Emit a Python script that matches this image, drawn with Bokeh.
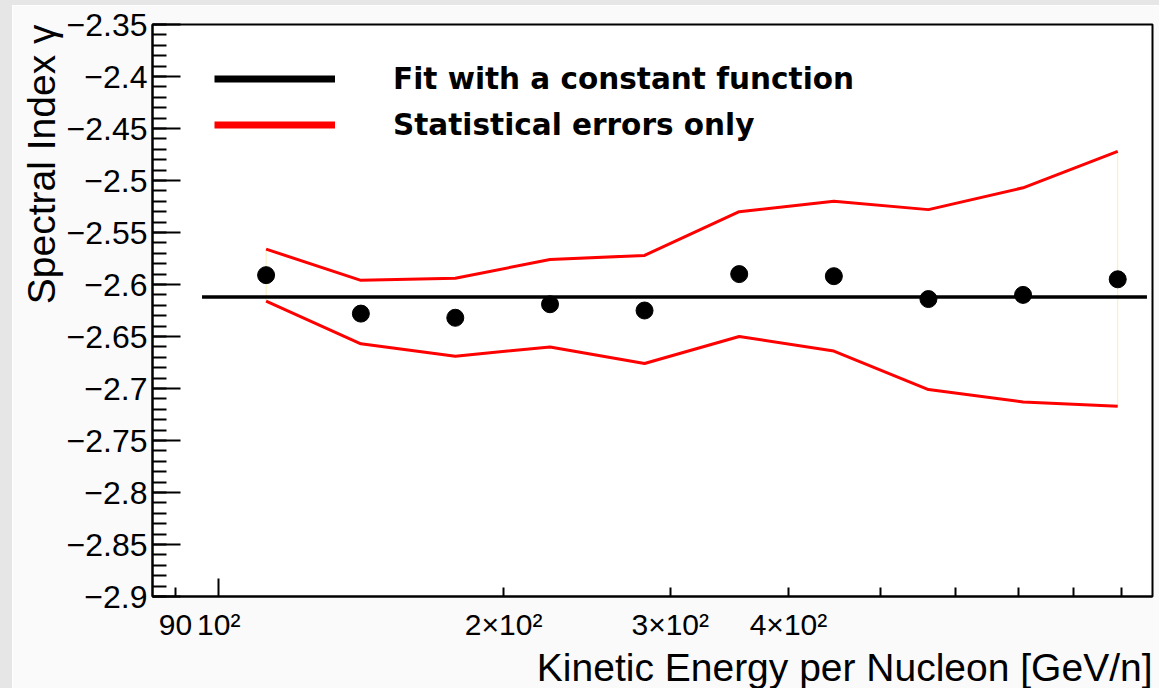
from bokeh.plotting import figure
from bokeh.models import (Range1d, FixedTicker, LogAxis, Title, Legend, LegendItem,
                          CustomJSTickFormatter, Spacer)
from bokeh.layouts import row, column
from bokeh.embed import file_html
from bokeh.resources import INLINE

# ---- data ----
energy = [112.2, 141.3, 177.8, 223.9, 281.8, 354.8, 446.7, 562.3, 707.9, 891.3]
gamma = [-2.591, -2.628, -2.632, -2.619, -2.625, -2.590, -2.592, -2.614, -2.610, -2.595]
stat_upper = [-2.566, -2.596, -2.594, -2.576, -2.572, -2.530, -2.520, -2.528, -2.507, -2.472]
stat_lower = [-2.616, -2.657, -2.669, -2.660, -2.676, -2.650, -2.664, -2.701, -2.713, -2.717]
fit_x = [96.0, 957.0]
fit_value = -2.612

x_label_ticks = [90, 100, 200, 300, 400]
x_label_text = ["90", "10²", "2×10²", "3×10²", "4×10²"]
x_minor_ticks = [90, 200, 300, 400, 500, 600, 700, 800, 900]
y_ticks = [-2.9, -2.85, -2.8, -2.75, -2.7, -2.65, -2.6, -2.55, -2.5, -2.45, -2.4, -2.35]
y_minor_ticks = [round(-2.9 + 0.01 * i, 2) for i in range(56)]

AXIS_FONT = "Liberation Sans"

p = figure(width=1147, height=683, x_axis_type="log",
           x_range=Range1d(85.1, 970), y_range=Range1d(-2.9, -2.35),
           output_backend="svg", toolbar_location=None,
           min_border_left=140, min_border_right=7, min_border_top=19, min_border_bottom=90,
           background_fill_color="#ffffff", border_fill_color="#fafafa")
p.grid.visible = False
p.outline_line_color = "black"
p.outline_line_width = 2

# ---- y axis ----
ya = p.yaxis[0]
ya.ticker = FixedTicker(ticks=y_ticks, minor_ticks=y_minor_ticks)
ya.formatter = CustomJSTickFormatter(code="""
    var s = Math.abs(tick).toFixed(2).replace(/0+$/, '').replace(/\\.$/, '');
    return (tick < 0 ? '\u2212' : '') + s;
""")
ya.major_tick_in = 28
ya.major_tick_out = 0
ya.minor_tick_in = 14
ya.minor_tick_out = 0
ya.major_tick_line_width = 2
ya.minor_tick_line_width = 2
ya.axis_line_width = 2
ya.major_label_standoff = 5
ya.major_label_text_font = AXIS_FONT
ya.major_label_text_font_size = "32px"
ya.major_label_text_color = "black"

# ---- x axis: ticks only ----
xa = p.xaxis[0]
xa.ticker = FixedTicker(ticks=[100], minor_ticks=x_minor_ticks)
xa.major_tick_in = 18
xa.major_tick_out = 0
xa.minor_tick_in = 9
xa.minor_tick_out = 0
xa.major_tick_line_width = 2
xa.minor_tick_line_width = 2
xa.axis_line_width = 2
xa.major_label_text_font_size = "1px"
xa.major_label_text_alpha = 0
xa.major_label_standoff = 0

# ---- x axis: labels only ----
xb = LogAxis(ticker=FixedTicker(ticks=x_label_ticks),
             major_label_overrides={t: s for t, s in zip(x_label_ticks, x_label_text)},
             major_tick_in=0, major_tick_out=0, minor_tick_in=0, minor_tick_out=0,
             axis_line_color=None, major_label_standoff=11,
             major_label_text_font=AXIS_FONT, major_label_text_font_size="30px",
             major_label_text_color="black")
p.add_layout(xb, "below")

# ---- axis titles (right-aligned as in ROOT) ----
p.add_layout(Title(text="Kinetic Energy per Nucleon [GeV/n]", align="right",
                   text_font=AXIS_FONT, text_font_size="39px", text_font_style="normal",
                   text_color="black", standoff=0), "below")
p.add_layout(Title(text="Spectral Index γ", align="right",
                   text_font=AXIS_FONT, text_font_size="39px", text_font_style="normal",
                   text_color="black", standoff=2), "left")

# ---- glyphs ----
p.segment(x0=[energy[0], energy[-1]], y0=[stat_upper[0], stat_upper[-1]],
          x1=[energy[0], energy[-1]], y1=[stat_lower[0], stat_lower[-1]],
          line_color="#f4efb0", line_width=1)
p.line(energy, stat_upper, line_color="#ff0000", line_width=3)
p.line(energy, stat_lower, line_color="#ff0000", line_width=3)
p.line(fit_x, [fit_value, fit_value], line_color="black", line_width=3.5)
p.scatter(energy, gamma, size=17, marker="circle", fill_color="black", line_color="black")

# ---- legend (dummy renderers carry the thick legend lines) ----
r_fit = p.line(x=[fit_x[0]], y=[fit_value], line_color="black", line_width=7)
r_stat = p.line(x=[fit_x[0]], y=[fit_value], line_color="#ff0000", line_width=7)
legend = Legend(items=[LegendItem(label="Fit with a constant function", renderers=[r_fit]),
                       LegendItem(label="Statistical errors only", renderers=[r_stat])],
                location=(62, 450), orientation="vertical",
                glyph_width=121, glyph_height=43, label_height=43, label_standoff=58,
                spacing=3, padding=0, margin=0,
                label_text_font="DejaVu Sans", label_text_font_style="bold",
                label_text_font_size="29.5px", label_text_color="black",
                border_line_color=None, background_fill_alpha=0)
p.add_layout(legend)

bg = "#e6e6e6"
layout = row(Spacer(width=12, height=688, styles={"background-color": bg}),
             column(Spacer(width=1147, height=5, styles={"background-color": bg}), p,
                    spacing=0),
             spacing=0)

open("out.html", "w").write(file_html(layout, INLINE))
